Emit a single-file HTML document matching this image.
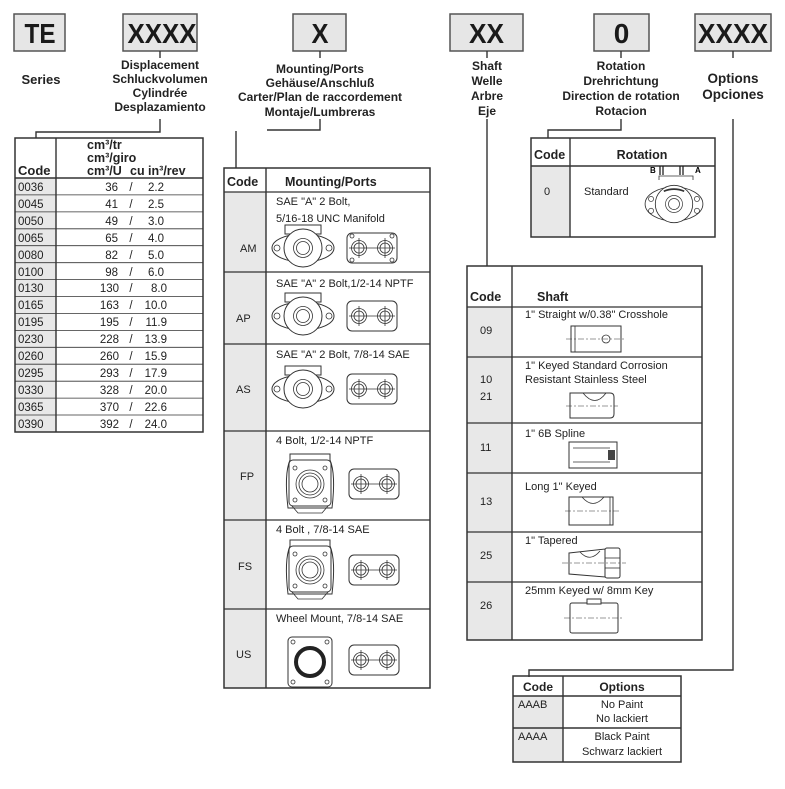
<!DOCTYPE html>
<html><head><meta charset="utf-8"><style>
html,body{margin:0;padding:0;background:#fff;}
svg{display:block;font-family:"Liberation Sans",Arial,sans-serif;}
.t{font-size:11px;fill:#222;}
.h{font-size:12.5px;font-weight:bold;fill:#222;}
.lab{font-size:12px;font-weight:bold;fill:#222;text-anchor:middle;}
.big{font-size:28px;font-weight:bold;fill:#1a1a1a;text-anchor:middle;}
.ln{stroke:#333;stroke-width:1.4;fill:none;}
.dr{stroke:#333;stroke-width:1;fill:#fff;}
.dn{stroke:#333;stroke-width:0.8;fill:none;}
.cl{stroke:#333;stroke-width:0.6;stroke-dasharray:6 2 2 2;fill:none;}
</style></head><body>
<svg width="785" height="789" viewBox="0 0 785 789" xmlns="http://www.w3.org/2000/svg">
<defs>
<g id="fl2">
<rect x="-18" y="-23" width="36" height="9" class="dr"/>
<ellipse cx="0" cy="0" rx="31" ry="14" class="dr"/>
<circle cx="0" cy="0" r="19" class="dr"/>
<circle cx="-26" cy="0" r="3" class="dn"/>
<circle cx="26" cy="0" r="3" class="dn"/>
<circle cx="0" cy="0" r="9.5" class="dn"/>
<circle cx="0" cy="0" r="6.5" class="dn"/>
</g>
<g id="pp">
<rect x="-25" y="-15" width="50" height="30" rx="5" class="dr"/>
<circle cx="-13" cy="0" r="7.5" class="dn"/>
<circle cx="13" cy="0" r="7.5" class="dn"/>
<circle cx="-13" cy="0" r="5" class="dn"/>
<circle cx="13" cy="0" r="5" class="dn"/>
<line x1="-23" y1="0" x2="23" y2="0" class="dn"/>
<line x1="-13" y1="-10" x2="-13" y2="10" class="dn"/>
<line x1="13" y1="-10" x2="13" y2="10" class="dn"/>
</g>
<g id="sq">
<path d="M-20,-30 H20 V-24 Q26,-10 22,24 H-22 Q-26,-10 -20,-24 Z" class="dr"/>
<rect x="-21" y="-24" width="42" height="46" rx="4" class="dr"/>
<path d="M-18,22 L-12,29 H12 L18,22" class="dn"/>
<circle cx="0" cy="0" r="14" class="dn"/>
<circle cx="0" cy="0" r="11" class="dn"/>
<circle cx="0" cy="0" r="8" class="dn"/>
<circle cx="-15" cy="-16" r="2" class="dn"/><circle cx="15" cy="-16" r="2" class="dn"/>
<circle cx="-15" cy="16" r="2" class="dn"/><circle cx="15" cy="16" r="2" class="dn"/>
</g>
</defs>

<!-- top boxes -->
<rect x="14" y="14" width="51" height="37" fill="#e6e6e6" stroke="#555" stroke-width="1.5"/>
<text x="40" y="43" class="big" textLength="31" lengthAdjust="spacingAndGlyphs">TE</text>
<rect x="123" y="14" width="74" height="37" fill="#e6e6e6" stroke="#555" stroke-width="1.5"/>
<text x="162" y="43" class="big" textLength="69" lengthAdjust="spacingAndGlyphs">XXXX</text>
<rect x="293" y="14" width="53" height="37" fill="#e6e6e6" stroke="#555" stroke-width="1.5"/>
<text x="320" y="43" class="big" textLength="17" lengthAdjust="spacingAndGlyphs">X</text>
<rect x="450" y="14" width="73" height="37" fill="#e6e6e6" stroke="#555" stroke-width="1.5"/>
<text x="486.5" y="43" class="big" textLength="35" lengthAdjust="spacingAndGlyphs">XX</text>
<rect x="594" y="14" width="55" height="37" fill="#e6e6e6" stroke="#555" stroke-width="1.5"/>
<text x="621.5" y="43" class="big">0</text>
<rect x="695" y="14" width="76" height="37" fill="#e6e6e6" stroke="#555" stroke-width="1.5"/>
<text x="733" y="43" class="big" textLength="70" lengthAdjust="spacingAndGlyphs">XXXX</text>

<!-- ticks -->
<line x1="160" y1="51" x2="160" y2="58" class="ln"/>
<line x1="320" y1="51" x2="320" y2="58" class="ln"/>
<line x1="487" y1="51" x2="487" y2="58" class="ln"/>
<line x1="621" y1="51" x2="621" y2="58" class="ln"/>
<line x1="733" y1="51" x2="733" y2="58" class="ln"/>

<!-- labels -->
<text x="41" y="84" class="lab" style="font-size:13px">Series</text>
<text class="lab"><tspan x="160" y="69">Displacement</tspan><tspan x="160" y="83">Schluckvolumen</tspan><tspan x="160" y="97">Cylindrée</tspan><tspan x="160" y="111">Desplazamiento</tspan></text>
<text class="lab"><tspan x="320" y="73">Mounting/Ports</tspan><tspan x="320" y="87">Gehäuse/Anschluß</tspan><tspan x="320" y="101">Carter/Plan de raccordement</tspan><tspan x="320" y="116">Montaje/Lumbreras</tspan></text>
<text class="lab"><tspan x="487" y="70">Shaft</tspan><tspan x="487" y="85">Welle</tspan><tspan x="487" y="100">Arbre</tspan><tspan x="487" y="115">Eje</tspan></text>
<text class="lab"><tspan x="621" y="70">Rotation</tspan><tspan x="621" y="85">Drehrichtung</tspan><tspan x="621" y="100">Direction de rotation</tspan><tspan x="621" y="115">Rotacion</tspan></text>
<text class="lab" style="font-size:13.5px"><tspan x="733" y="83">Options</tspan><tspan x="733" y="99">Opciones</tspan></text>

<!-- connectors -->
<path d="M160,119 V132 H36 V138" class="ln"/>
<path d="M320,119 V130 H267" class="ln"/>
<line x1="236" y1="131" x2="236" y2="168" class="ln"/>
<line x1="487" y1="119" x2="487" y2="266" class="ln"/>
<path d="M621,119 V130 H548 V138" class="ln"/>
<path d="M733,119 V670 H529 V677" class="ln"/>

<!-- Table 1 displacement -->
<rect x="15" y="178" width="41" height="254" fill="#e8e8e8"/>
<rect x="15" y="138" width="188" height="294" fill="none" stroke="#333" stroke-width="1.5"/>
<line x1="56" y1="138" x2="56" y2="432" class="ln"/>
<line x1="15" y1="178" x2="203" y2="178" class="ln"/>
<text class="h"><tspan x="87" y="149">cm³/tr</tspan><tspan x="87" y="162">cm³/giro</tspan><tspan x="87" y="175">cm³/U</tspan><tspan x="130" y="175">cu in³/rev</tspan></text>
<text x="18" y="175" class="h" style="font-size:13px">Code</text>
<g stroke="#333" stroke-width="0.8">
<line x1="15" y1="194.9" x2="203" y2="194.9"/><line x1="15" y1="211.9" x2="203" y2="211.9"/><line x1="15" y1="228.8" x2="203" y2="228.8"/><line x1="15" y1="245.7" x2="203" y2="245.7"/><line x1="15" y1="262.7" x2="203" y2="262.7"/><line x1="15" y1="279.6" x2="203" y2="279.6"/><line x1="15" y1="296.5" x2="203" y2="296.5"/><line x1="15" y1="313.4" x2="203" y2="313.4"/><line x1="15" y1="330.4" x2="203" y2="330.4"/><line x1="15" y1="347.3" x2="203" y2="347.3"/><line x1="15" y1="364.2" x2="203" y2="364.2"/><line x1="15" y1="381.2" x2="203" y2="381.2"/><line x1="15" y1="398.1" x2="203" y2="398.1"/><line x1="15" y1="415" x2="203" y2="415"/>
</g>
<g class="t" style="font-size:11.5px">
<text x="18" y="191">0036</text><text x="118" y="191" text-anchor="end">36</text><text x="131" y="191" text-anchor="middle">/</text><text x="164" y="191" text-anchor="end">2.2</text>
<text x="18" y="208">0045</text><text x="118" y="208" text-anchor="end">41</text><text x="131" y="208" text-anchor="middle">/</text><text x="164" y="208" text-anchor="end">2.5</text>
<text x="18" y="225">0050</text><text x="118" y="225" text-anchor="end">49</text><text x="131" y="225" text-anchor="middle">/</text><text x="164" y="225" text-anchor="end">3.0</text>
<text x="18" y="242">0065</text><text x="118" y="242" text-anchor="end">65</text><text x="131" y="242" text-anchor="middle">/</text><text x="164" y="242" text-anchor="end">4.0</text>
<text x="18" y="259">0080</text><text x="118" y="259" text-anchor="end">82</text><text x="131" y="259" text-anchor="middle">/</text><text x="164" y="259" text-anchor="end">5.0</text>
<text x="18" y="276">0100</text><text x="118" y="276" text-anchor="end">98</text><text x="131" y="276" text-anchor="middle">/</text><text x="164" y="276" text-anchor="end">6.0</text>
<text x="18" y="292">0130</text><text x="119" y="292" text-anchor="end">130</text><text x="131" y="292" text-anchor="middle">/</text><text x="167" y="292" text-anchor="end">8.0</text>
<text x="18" y="309">0165</text><text x="119" y="309" text-anchor="end">163</text><text x="131" y="309" text-anchor="middle">/</text><text x="167" y="309" text-anchor="end">10.0</text>
<text x="18" y="326">0195</text><text x="119" y="326" text-anchor="end">195</text><text x="131" y="326" text-anchor="middle">/</text><text x="167" y="326" text-anchor="end">11.9</text>
<text x="18" y="343">0230</text><text x="119" y="343" text-anchor="end">228</text><text x="131" y="343" text-anchor="middle">/</text><text x="167" y="343" text-anchor="end">13.9</text>
<text x="18" y="360">0260</text><text x="119" y="360" text-anchor="end">260</text><text x="131" y="360" text-anchor="middle">/</text><text x="167" y="360" text-anchor="end">15.9</text>
<text x="18" y="377">0295</text><text x="119" y="377" text-anchor="end">293</text><text x="131" y="377" text-anchor="middle">/</text><text x="167" y="377" text-anchor="end">17.9</text>
<text x="18" y="394">0330</text><text x="119" y="394" text-anchor="end">328</text><text x="131" y="394" text-anchor="middle">/</text><text x="167" y="394" text-anchor="end">20.0</text>
<text x="18" y="411">0365</text><text x="119" y="411" text-anchor="end">370</text><text x="131" y="411" text-anchor="middle">/</text><text x="167" y="411" text-anchor="end">22.6</text>
<text x="18" y="428">0390</text><text x="119" y="428" text-anchor="end">392</text><text x="131" y="428" text-anchor="middle">/</text><text x="167" y="428" text-anchor="end">24.0</text>
</g>

<!-- Table 2 mounting -->
<rect x="224" y="192" width="42" height="496" fill="#e8e8e8"/>
<rect x="224" y="168" width="206" height="520" fill="none" stroke="#333" stroke-width="1.5"/>
<line x1="266" y1="168" x2="266" y2="688" class="ln"/>
<g stroke="#333" stroke-width="1.2">
<line x1="224" y1="192" x2="430" y2="192"/><line x1="224" y1="272" x2="430" y2="272"/><line x1="224" y1="344" x2="430" y2="344"/><line x1="224" y1="431" x2="430" y2="431"/><line x1="224" y1="520" x2="430" y2="520"/><line x1="224" y1="609" x2="430" y2="609"/>
</g>
<text x="227" y="186" class="h">Code</text>
<text x="285" y="186" class="h">Mounting/Ports</text>
<g class="t">
<text x="276" y="205">SAE "A" 2 Bolt,</text><text x="276" y="222">5/16-18 UNC Manifold</text>
<text x="276" y="287">SAE "A" 2 Bolt,1/2-14 NPTF</text>
<text x="276" y="358">SAE "A" 2 Bolt, 7/8-14 SAE</text>
<text x="276" y="444">4 Bolt, 1/2-14 NPTF</text>
<text x="276" y="533">4 Bolt , 7/8-14 SAE</text>
<text x="276" y="622">Wheel Mount, 7/8-14 SAE</text>
<text x="240" y="252">AM</text><text x="236" y="322">AP</text><text x="236" y="393">AS</text>
<text x="240" y="480">FP</text><text x="238" y="570">FS</text><text x="236" y="658">US</text>
</g>
<use href="#fl2" x="303" y="248"/><use href="#pp" x="372" y="248"/>
<circle cx="352" cy="236" r="2" class="dn"/><circle cx="392" cy="236" r="2" class="dn"/><circle cx="352" cy="260" r="2" class="dn"/><circle cx="392" cy="260" r="2" class="dn"/>
<use href="#fl2" x="303" y="316"/><use href="#pp" x="372" y="316"/>
<use href="#fl2" x="303" y="389"/><use href="#pp" x="372" y="389"/>
<use href="#sq" x="310" y="484"/><use href="#pp" x="374" y="484"/>
<use href="#sq" x="310" y="570"/><use href="#pp" x="374" y="570"/>
<rect x="288" y="637" width="44" height="50" rx="4" class="dr"/>
<circle cx="310" cy="662" r="14" fill="none" stroke="#222" stroke-width="4"/>
<circle cx="293" cy="642" r="2" class="dn"/><circle cx="327" cy="642" r="2" class="dn"/><circle cx="293" cy="682" r="2" class="dn"/><circle cx="327" cy="682" r="2" class="dn"/>
<use href="#pp" x="374" y="660"/>

<!-- Table 3 shaft -->
<rect x="467" y="307" width="45" height="333" fill="#e8e8e8"/>
<rect x="467" y="266" width="235" height="374" fill="none" stroke="#333" stroke-width="1.5"/>
<line x1="512" y1="266" x2="512" y2="640" class="ln"/>
<g stroke="#333" stroke-width="1.2">
<line x1="467" y1="307" x2="702" y2="307"/><line x1="467" y1="357" x2="702" y2="357"/><line x1="467" y1="423" x2="702" y2="423"/><line x1="467" y1="473" x2="702" y2="473"/><line x1="467" y1="532" x2="702" y2="532"/><line x1="467" y1="582" x2="702" y2="582"/>
</g>
<text x="470" y="301" class="h">Code</text>
<text x="537" y="301" class="h">Shaft</text>
<g class="t">
<text x="525" y="318">1" Straight w/0.38" Crosshole</text>
<text x="525" y="369">1" Keyed Standard Corrosion</text><text x="525" y="383">Resistant Stainless Steel</text>
<text x="525" y="437">1" 6B Spline</text>
<text x="525" y="490">Long 1" Keyed</text>
<text x="525" y="544">1" Tapered</text>
<text x="525" y="594">25mm Keyed w/ 8mm Key</text>
<text x="480" y="334">09</text><text x="480" y="383">10</text><text x="480" y="400">21</text>
<text x="480" y="451">11</text><text x="480" y="505">13</text><text x="480" y="559">25</text><text x="480" y="609">26</text>
</g>
<rect x="571" y="326" width="50" height="26" class="dr"/><line x1="575" y1="326" x2="575" y2="352" class="dn"/><circle cx="606" cy="339" r="4" class="dn"/><line x1="566" y1="339" x2="626" y2="339" class="cl"/>
<path d="M570,393 H610 Q614,393 614,397 V414 Q614,418 610,418 H570 Z" class="dr"/><path d="M583,393 Q595,408 606,393" class="dn"/><line x1="566" y1="406" x2="618" y2="406" class="cl"/>
<rect x="569" y="442" width="48" height="26" class="dr"/><line x1="573" y1="448" x2="610" y2="448" class="dn"/><line x1="573" y1="462" x2="610" y2="462" class="dn"/><rect x="608" y="450" width="7" height="10" fill="#444"/>
<rect x="569" y="497" width="44" height="28" class="dr"/><path d="M582,497 Q593,510 604,497" class="dn"/><line x1="610" y1="497" x2="610" y2="525" class="dn"/><line x1="565" y1="511" x2="620" y2="511" class="cl"/>
<path d="M569,553 L605,549 V577 L569,574 Z" class="dr"/><path d="M580,552 Q590,563 600,551" class="dn"/><rect x="605" y="548" width="15" height="30" rx="2" class="dr"/><line x1="605" y1="558" x2="620" y2="558" class="dn"/><line x1="605" y1="568" x2="620" y2="568" class="dn"/><line x1="562" y1="563" x2="626" y2="563" class="cl"/>
<rect x="570" y="603" width="48" height="30" rx="2" class="dr"/><rect x="587" y="599" width="14" height="5" class="dr"/><line x1="564" y1="618" x2="624" y2="618" class="cl"/>

<!-- Table 4 rotation -->
<rect x="531" y="166" width="39" height="71" fill="#e8e8e8"/>
<rect x="531" y="138" width="184" height="99" fill="none" stroke="#333" stroke-width="1.5"/>
<line x1="570" y1="138" x2="570" y2="237" class="ln"/>
<line x1="531" y1="166" x2="715" y2="166" class="ln"/>
<text x="534" y="159" class="h">Code</text>
<text x="642" y="159" class="h" text-anchor="middle">Rotation</text>
<text x="544" y="195" class="t">0</text>
<text x="584" y="195" class="t">Standard</text>
<text x="650" y="173" style="font-size:8px;font-weight:bold">B</text>
<text x="695" y="173" style="font-size:8px;font-weight:bold">A</text>
<path d="M660,166 v9 M663,175 v-9 M680,166 v9 M683,175 v-9" stroke="#222" stroke-width="1.3"/>
<path d="M659,180 V176 H693 V180" class="dn"/>
<g transform="translate(674,204) scale(0.85)"><ellipse cx="0" cy="0" rx="34" ry="20" class="dr"/><circle cx="0" cy="0" r="22" class="dr"/><circle cx="0" cy="0" r="10" class="dn"/><circle cx="0" cy="0" r="6.5" class="dn"/><circle cx="-27" cy="-6" r="3" class="dn"/><circle cx="27" cy="-6" r="3" class="dn"/><circle cx="-27" cy="8" r="3" class="dn"/><circle cx="27" cy="8" r="3" class="dn"/><path d="M-12,-15 Q0,-20 12,-15" stroke="#333" stroke-width="2" fill="none"/></g>

<!-- Table 5 options -->
<rect x="513" y="696" width="50" height="66" fill="#e8e8e8"/>
<rect x="513" y="676" width="168" height="86" fill="none" stroke="#333" stroke-width="1.5"/>
<line x1="563" y1="676" x2="563" y2="762" class="ln"/>
<line x1="513" y1="696" x2="681" y2="696" class="ln"/>
<line x1="513" y1="728" x2="681" y2="728" class="ln"/>
<text x="538" y="691" class="h" text-anchor="middle" style="font-size:12px">Code</text>
<text x="622" y="691" class="h" text-anchor="middle" style="font-size:12px">Options</text>
<g class="t">
<text x="518" y="708">AAAB</text><text x="518" y="740">AAAA</text>
<text x="622" y="708" text-anchor="middle">No Paint</text><text x="622" y="722" text-anchor="middle">No lackiert</text>
<text x="622" y="740" text-anchor="middle">Black Paint</text><text x="622" y="755" text-anchor="middle">Schwarz  lackiert</text>
</g>
</svg>
</body></html>
